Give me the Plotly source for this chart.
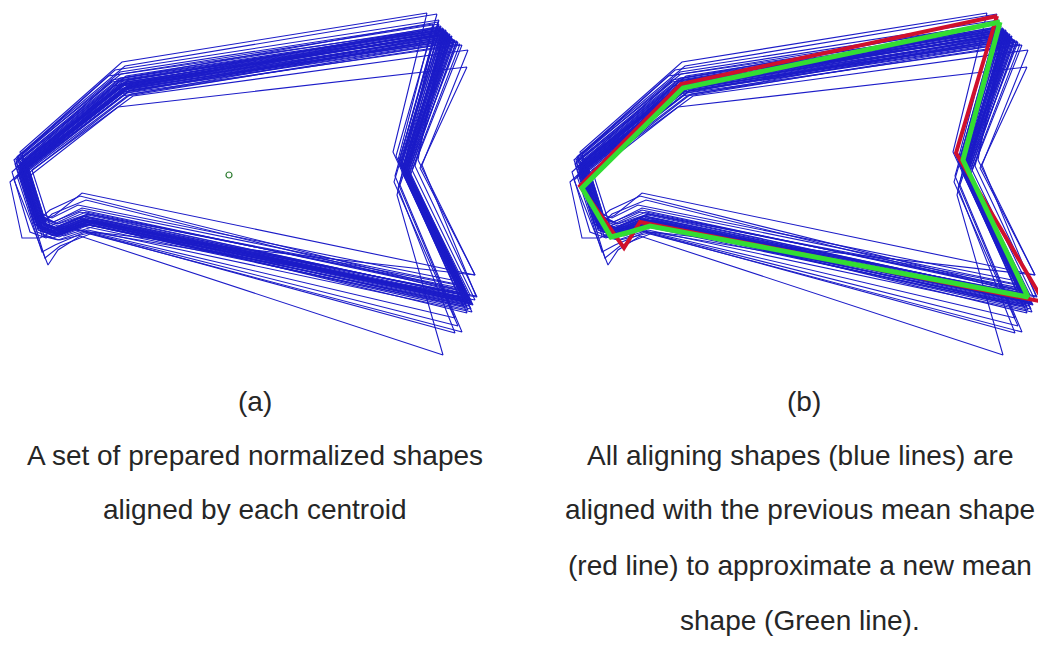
import plotly.graph_objects as go

# Landmark order for every outline:
# top-right, top-left bend, left tip, lower-left, lower dip, lower bend, bottom-right, right notch
LANDMARKS = ["TR", "TLB", "LT", "LL", "LD", "LB", "BR", "N"]

# Prepared, normalized shapes (x, y pairs per landmark, image-style y axis pointing down)
shapes_xy = [
    [427, 13, 122, 62, 20, 152, 36, 212, 52, 218, 78, 205, 452, 280, 393, 152],
    [437, 14, 125, 66, 18, 156, 38, 215, 54, 222, 82, 208, 456, 284, 396, 156],
    [433, 24, 120, 72, 16, 160, 35, 220, 50, 226, 80, 212, 460, 288, 398, 160],
    [440, 27, 126, 76, 22, 158, 40, 218, 57, 224, 86, 212, 463, 290, 401, 162],
    [442, 30, 119, 80, 15, 164, 34, 224, 50, 230, 78, 218, 466, 294, 400, 165],
    [445, 31, 127, 82, 24, 162, 42, 222, 58, 228, 88, 215, 468, 296, 404, 166],
    [447, 34, 121, 84, 19, 166, 38, 226, 54, 232, 84, 220, 464, 298, 402, 168],
    [450, 36, 128, 86, 26, 164, 44, 224, 60, 230, 90, 218, 470, 300, 406, 170],
    [452, 38, 123, 88, 21, 168, 40, 228, 56, 234, 86, 222, 467, 302, 405, 170],
    [455, 40, 130, 90, 28, 168, 46, 226, 62, 232, 92, 220, 472, 304, 408, 172],
    [458, 42, 124, 92, 23, 170, 41, 230, 57, 236, 87, 224, 469, 306, 407, 174],
    [460, 44, 131, 94, 30, 172, 48, 230, 64, 236, 95, 226, 475, 300, 412, 170],
    [468, 50, 133, 96, 32, 170, 50, 226, 66, 232, 97, 222, 476, 296, 422, 165],
    [467, 67, 118, 107, 27, 178, 44, 236, 60, 240, 93, 232, 475, 275, 420, 168],
    [438, 22, 112, 80, 12, 172, 30, 232, 46, 238, 72, 228, 455, 318, 395, 176],
    [441, 26, 114, 86, 10, 182, 22, 238, 40, 238, 62, 226, 458, 326, 394, 182],
    [436, 28, 116, 90, 14, 180, 48, 265, 58, 250, 80, 236, 443, 355, 397, 195],
    [445, 35, 120, 94, 17, 176, 42, 252, 55, 245, 85, 232, 455, 333, 398, 188],
    [449, 38, 122, 96, 19, 174, 45, 258, 60, 246, 90, 234, 462, 332, 400, 185],
    [443, 30, 124, 78, 20, 162, 35, 225, 55, 215, 82, 193, 475, 275, 418, 160],
    [448, 34, 126, 84, 22, 165, 38, 228, 60, 228, 97, 233, 477, 297, 415, 166],
    [439, 24, 121, 74, 17, 157, 37, 216, 53, 222, 82, 210, 461, 291, 399, 161],
    [444, 29, 124, 80, 21, 163, 39, 222, 56, 228, 85, 216, 465, 295, 402, 164],
    [446, 32, 122, 83, 20, 165, 39, 225, 55, 231, 85, 219, 467, 299, 403, 167],
    [451, 37, 126, 87, 24, 167, 42, 227, 58, 233, 88, 221, 469, 301, 405, 169],
    [453, 39, 125, 89, 23, 169, 41, 229, 57, 235, 87, 223, 471, 303, 406, 171],
    [457, 41, 129, 91, 27, 170, 45, 229, 61, 235, 91, 223, 473, 305, 409, 173],
    [462, 45, 127, 93, 25, 172, 43, 231, 59, 237, 89, 225, 471, 309, 410, 176],
    [448, 33, 123, 85, 22, 166, 40, 226, 56, 232, 86, 220, 466, 300, 404, 168],
    [440, 28, 119, 82, 18, 166, 37, 225, 53, 231, 82, 219, 462, 297, 401, 167],
    [454, 40, 128, 88, 25, 169, 43, 228, 59, 234, 89, 222, 470, 303, 407, 171],
    [444, 31, 121, 86, 20, 168, 39, 227, 55, 233, 84, 221, 463, 306, 403, 172],
    [450, 36, 125, 90, 24, 170, 42, 229, 58, 235, 88, 224, 468, 310, 405, 176],
    [447, 34, 127, 86, 23, 167, 41, 227, 57, 233, 87, 221, 467, 313, 406, 178],
    [443, 28, 108, 76, 14, 160, 36, 222, 50, 210, 80, 196, 466, 292, 404, 164],
    [447, 32, 112, 82, 16, 162, 40, 226, 52, 214, 86, 200, 470, 295, 406, 166],
    [439, 20, 115, 70, 22, 154, 42, 216, 58, 224, 88, 214, 462, 286, 400, 158],
    [452, 36, 132, 86, 28, 166, 46, 224, 62, 230, 94, 220, 471, 301, 409, 170],
    [446, 30, 128, 80, 24, 160, 42, 220, 58, 226, 88, 214, 466, 296, 404, 165],
    [449, 35, 124, 84, 22, 164, 40, 224, 56, 230, 86, 218, 468, 299, 405, 168],
    [445, 33, 126, 88, 21, 170, 39, 230, 55, 236, 85, 224, 465, 304, 402, 172],
    [451, 38, 122, 92, 19, 172, 37, 232, 53, 238, 83, 226, 467, 307, 404, 175],
    [456, 42, 127, 96, 24, 174, 42, 236, 58, 240, 88, 230, 472, 312, 408, 178],
    [442, 29, 120, 78, 18, 160, 38, 222, 54, 228, 84, 216, 464, 295, 401, 164],
    [448, 33, 129, 85, 27, 166, 45, 226, 61, 232, 91, 220, 470, 302, 407, 169],
    [454, 40, 121, 90, 20, 170, 38, 230, 54, 236, 84, 224, 466, 305, 404, 174],
    [450, 34, 125, 82, 23, 163, 41, 223, 57, 229, 87, 217, 469, 298, 406, 167],
    [446, 31, 123, 86, 21, 167, 39, 227, 55, 233, 85, 221, 465, 301, 403, 170],
]

# Previous mean shape and the new mean shape (same landmark order)
previous_mean_x = [437, 121, 20, 52, 64, 80, 484, 396]
previous_mean_y = [16, 84, 186, 230, 248, 222, 302, 153]
new_mean_x = [440, 123, 22, 51, 70, 90, 468, 403]
new_mean_y = [22, 88, 188, 237, 232, 226, 297, 160]

# Centroid shared by the shapes in (a)
centroid_x = [229]
centroid_y = [175]

panel_labels = ["(a)", "(b)"]
caption_a = ["A set of prepared normalized shapes", "aligned by each centroid"]
caption_b = [
    "All aligning shapes (blue lines) are",
    "aligned with the previous mean shape",
    "(red line) to approximate a new mean",
    "shape (Green line).",
]


def closed_outlines(rows):
    xs, ys = [], []
    for row in rows:
        px = row[0::2]
        py = row[1::2]
        xs += px + [px[0], None]
        ys += py + [py[0], None]
    return xs, ys


def closed(xs, ys):
    return xs + [xs[0]], ys + [ys[0]]


W, H = 1038, 649
fig = go.Figure()

bx, by = closed_outlines(shapes_xy)
blue = dict(color="#1c1cc8", width=1.1)

# panel (a)
fig.add_trace(go.Scatter(x=bx, y=by, mode="lines", line=blue,
                         xaxis="x", yaxis="y", hoverinfo="skip"))
fig.add_trace(go.Scatter(x=centroid_x, y=centroid_y, mode="markers",
                         marker=dict(symbol="circle-open", size=6,
                                     color="#2e7d32", line=dict(width=1.2)),
                         xaxis="x", yaxis="y", hoverinfo="skip"))

# panel (b)
fig.add_trace(go.Scatter(x=bx, y=by, mode="lines", line=blue,
                         xaxis="x2", yaxis="y2", hoverinfo="skip"))
rx, ry = closed(previous_mean_x, previous_mean_y)
fig.add_trace(go.Scatter(x=rx, y=ry, mode="lines",
                         line=dict(color="#d0102c", width=4),
                         xaxis="x2", yaxis="y2", hoverinfo="skip"))
gx, gy = closed(new_mean_x, new_mean_y)
fig.add_trace(go.Scatter(x=gx, y=gy, mode="lines",
                         line=dict(color="#33dd33", width=5),
                         xaxis="x2", yaxis="y2", hoverinfo="skip"))

top_h = 370
ydom = [1 - top_h / H, 1]
axis_off = dict(visible=False, showgrid=False, zeroline=False, fixedrange=True)

fig.update_layout(
    width=W, height=H,
    margin=dict(l=0, r=0, t=0, b=0),
    paper_bgcolor="white", plot_bgcolor="white",
    showlegend=False,
    xaxis=dict(domain=[0, 519 / W], range=[0, 519], **axis_off),
    yaxis=dict(domain=ydom, range=[top_h, 0], **axis_off),
    xaxis2=dict(domain=[519 / W, 1], range=[-41, 478], **axis_off),
    yaxis2=dict(domain=ydom, range=[top_h, 0], **axis_off),
)

font = dict(family="Liberation Sans, Arial, sans-serif", size=28, color="#262626")


def put(text, cx, cy):
    fig.add_annotation(text=text, x=cx / W, y=1 - cy / H, xref="paper", yref="paper",
                       xanchor="center", yanchor="middle", showarrow=False, font=font)


put(panel_labels[0], 255, 401)
put(panel_labels[1], 804, 401)
for i, line in enumerate(caption_a):
    put(line, 255, 455 + 55 * i)
for i, line in enumerate(caption_b):
    put(line, 800, 455 + 55 * i)

fig.write_html("out.html")
